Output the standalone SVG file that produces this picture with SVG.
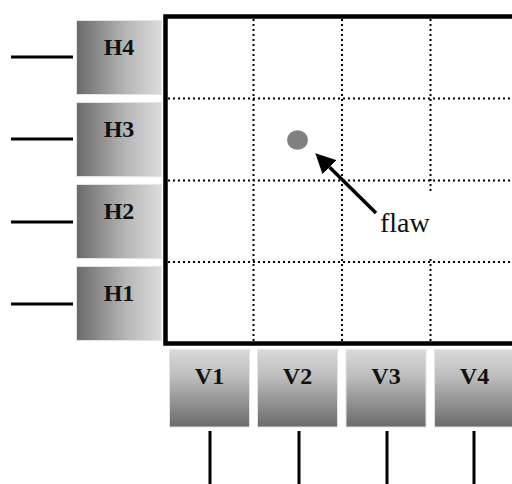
<svg xmlns="http://www.w3.org/2000/svg" width="512" height="484" viewBox="0 0 512 484">
  <style>
    .lbl { font-family: "Liberation Serif", "Times New Roman", serif; font-weight: bold; font-size: 24px; fill: #111; text-anchor: middle; }
    .flaw { font-family: "Liberation Serif", "Times New Roman", serif; font-size: 28px; fill: #111; }
    .hbox { fill: url(#hgrad); stroke: #e4e4e4; stroke-width: 1; }
    .vbox { fill: url(#vgrad); stroke: #e4e4e4; stroke-width: 1; }
    .wire { stroke: #000; stroke-width: 3; fill: none; }
    .grid { stroke: #000; stroke-width: 2; stroke-dasharray: 2 3; fill: none; }
  </style>
  <defs>
    <linearGradient id="hgrad" x1="0" y1="0" x2="1" y2="0">
      <stop offset="0" stop-color="#6a6a6a"/>
      <stop offset="0.6" stop-color="#b8b8b8"/>
      <stop offset="1" stop-color="#dcdcdc"/>
    </linearGradient>
    <linearGradient id="vgrad" x1="0" y1="0" x2="0" y2="1">
      <stop offset="0" stop-color="#dadada"/>
      <stop offset="0.35" stop-color="#bdbdbd"/>
      <stop offset="1" stop-color="#6a6a6a"/>
    </linearGradient>
    <marker id="arrow" markerUnits="userSpaceOnUse" viewBox="0 0 20 20" refX="0" refY="10" markerWidth="20" markerHeight="20" orient="auto">
      <path d="M0,0 L20,10 L0,20 z" fill="#000"/>
    </marker>
  </defs>

  <rect width="512" height="484" fill="#fff"/>

  <g id="grid">
    <line class="grid" x1="253.5" y1="19" x2="253.5" y2="341"/>
    <line class="grid" x1="342" y1="19" x2="342" y2="341"/>
    <line class="grid" x1="430.5" y1="19" x2="430.5" y2="341"/>
    <line class="grid" x1="168" y1="98.5" x2="512" y2="98.5"/>
    <line class="grid" x1="168" y1="180.5" x2="512" y2="180.5"/>
    <line class="grid" x1="168" y1="262" x2="512" y2="262"/>
    <rect x="378" y="193" width="58" height="64" fill="#fff"/>
    <rect x="165.5" y="16.5" width="354" height="327" fill="none" stroke="#000" stroke-width="4.5"/>
  </g>

  <g id="flaw">
    <ellipse cx="297.5" cy="140" rx="10.5" ry="9.8" fill="#808080"/>
    <text class="flaw" x="380" y="232">flaw</text>
  </g>

  <g id="H4"><rect class="hbox" x="76.5" y="20.5" width="85" height="74"/><text class="lbl" x="119" y="55">H4</text></g>
  <g id="H3"><rect class="hbox" x="76.5" y="102.5" width="85" height="74"/><text class="lbl" x="119" y="137">H3</text></g>
  <g id="H2"><rect class="hbox" x="76.5" y="184.5" width="85" height="74"/><text class="lbl" x="119" y="219">H2</text></g>
  <g id="H1"><rect class="hbox" x="76.5" y="266.5" width="85" height="74"/><text class="lbl" x="119" y="301">H1</text></g>

  <g id="V1"><rect class="vbox" x="169.5" y="349.5" width="80" height="77.5"/><text class="lbl" x="209.5" y="384">V1</text></g>
  <g id="V2"><rect class="vbox" x="257.5" y="349.5" width="80" height="77.5"/><text class="lbl" x="297.5" y="384">V2</text></g>
  <g id="V3"><rect class="vbox" x="346" y="349.5" width="80" height="77.5"/><text class="lbl" x="386" y="384">V3</text></g>
  <g id="V4"><rect class="vbox" x="434.5" y="349.5" width="80" height="77.5"/><text class="lbl" x="474.5" y="384">V4</text></g>

  <g id="connectors">
    <line class="wire" x1="11" y1="57" x2="73" y2="57"/>
    <line class="wire" x1="11" y1="139" x2="73" y2="139"/>
    <line class="wire" x1="11" y1="222" x2="73" y2="222"/>
    <line class="wire" x1="11" y1="304" x2="73" y2="304"/>
    <line class="wire" x1="210" y1="431" x2="210" y2="484"/>
    <line class="wire" x1="299" y1="431" x2="299" y2="484"/>
    <line class="wire" x1="387" y1="431" x2="387" y2="484"/>
    <line class="wire" x1="474" y1="431" x2="474" y2="484"/>
    <line x1="376" y1="213" x2="329.6" y2="167.3" stroke="#000" stroke-width="3.5" marker-end="url(#arrow)"/>
  </g>
</svg>
